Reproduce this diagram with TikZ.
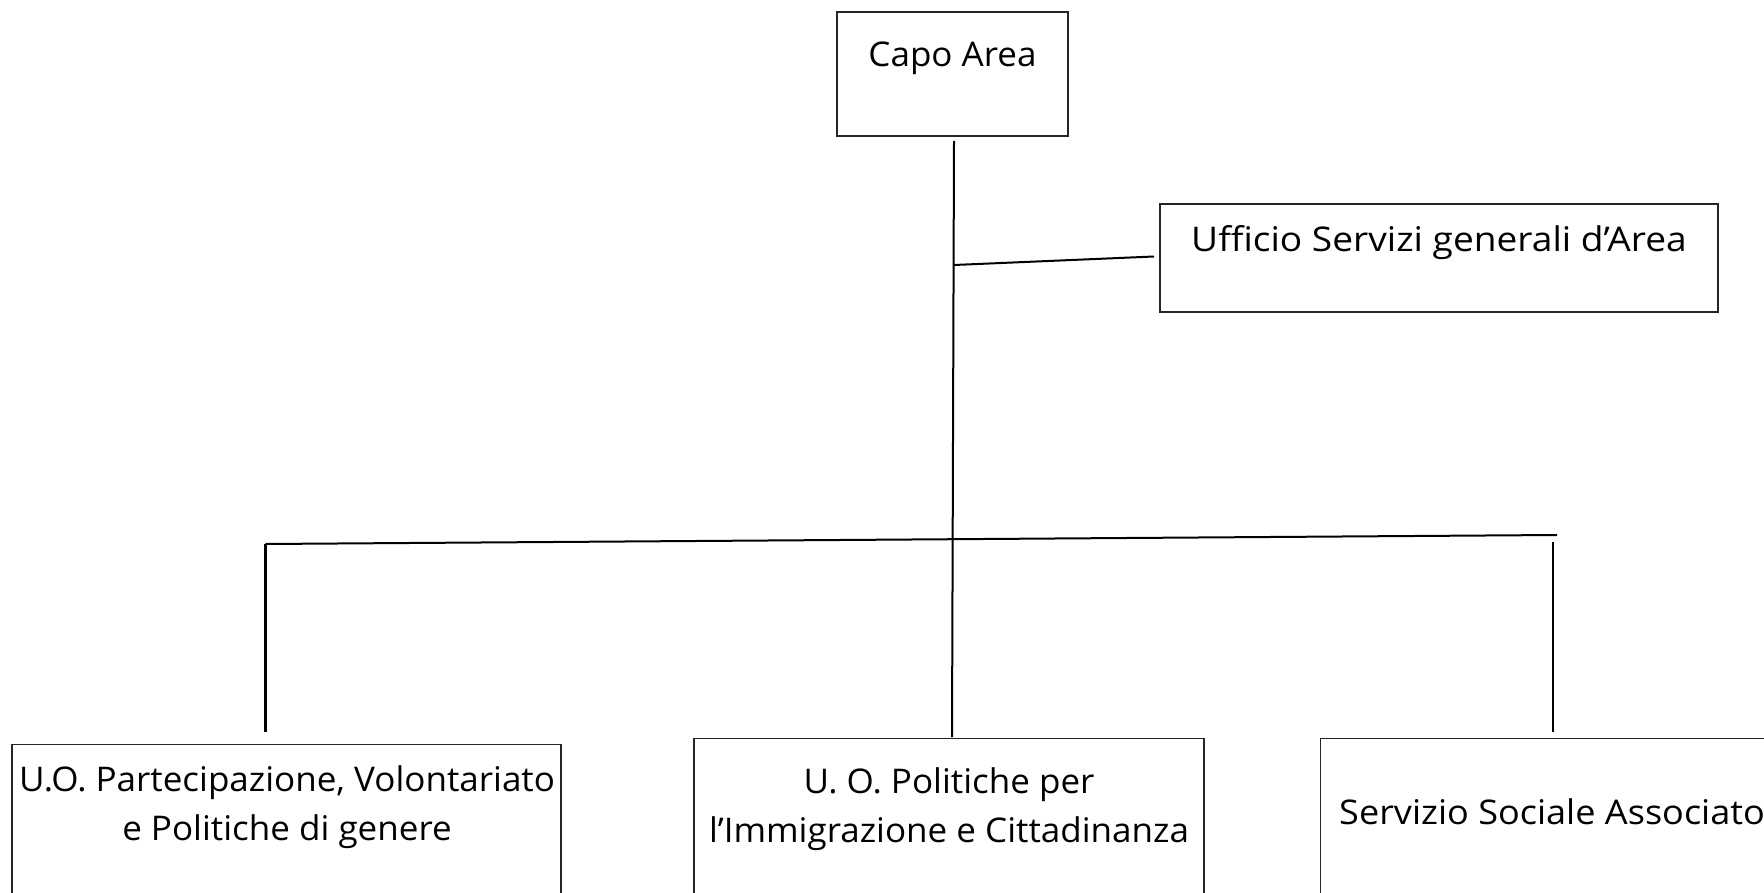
\documentclass[tikz,border=0pt]{standalone}
\usepackage{fontspec}
\setmainfont[FakeStretch=1.03]{Open Sans}
\begin{document}
\begin{tikzpicture}[x=1pt,y=-1pt,
  box/.style={draw=black!85, line width=1.3pt, rectangle, inner sep=0pt},
  lbl/.style={inner sep=0pt, font=\fontsize{34}{49}\selectfont},
  conn/.style={line width=2pt},
  thickconn/.style={line width=3pt}]
\useasboundingbox (0,0) rectangle (1764,893);
\clip (0,0) rectangle (1764,893);
% boxes
\node[box, minimum width=231pt, minimum height=124pt] (capo) at (952.5,74) {};
\node[lbl, anchor=base] (capot) at (952.5,67) {Capo Area};
\node[box, minimum width=558pt, minimum height=108pt] (uff) at (1439,258) {};
\node[lbl, anchor=base] (ufft) at (1439,252) {\scalebox{1.06}[1]{Ufficio Servizi generali d'Area}};
\node[box, minimum width=549pt, minimum height=220pt, anchor=north] (uo1) at (286.5,744) {};
\node[lbl, anchor=base] (uo1t) at (287,791) {\begin{tabular}[t]{@{}c@{}}U.O. Partecipazione, Volontariato\\ e Politiche di genere\end{tabular}};
\node[box, minimum width=510pt, minimum height=220pt, anchor=north] (uo2) at (949,738) {};
\node[lbl, anchor=base] (uo2t) at (949,793) {\begin{tabular}[t]{@{}c@{}}U. O. Politiche per\\ l'Immigrazione e Cittadinanza\end{tabular}};
\node[box, minimum width=600pt, minimum height=220pt, anchor=north west] (ssa) at (1320,738) {};
\node[lbl, anchor=base west] (ssat) at (1339,824) {\scalebox{1.03}[1]{Servizio Sociale Associato}};
% connector points
\coordinate (t0) at (954,141);
\coordinate (t1) at (952,737);
\coordinate (j1) at (954,265);
\coordinate (u0) at (1154,256.5);
\coordinate (bl) at (265.5,544);
\coordinate (br) at (1557,535);
\coordinate (dl) at (265.5,732);
\coordinate (r0) at (1553,542);
\coordinate (r1) at (1553,732);
% connectors
\draw[conn] (t0) -- (t1);
\draw[conn] (j1) -- (u0);
\draw[conn] (bl) -- (br);
\draw[thickconn] (bl) -- (dl);
\draw[conn] (r0) -- (r1);
\end{tikzpicture}
\end{document}
